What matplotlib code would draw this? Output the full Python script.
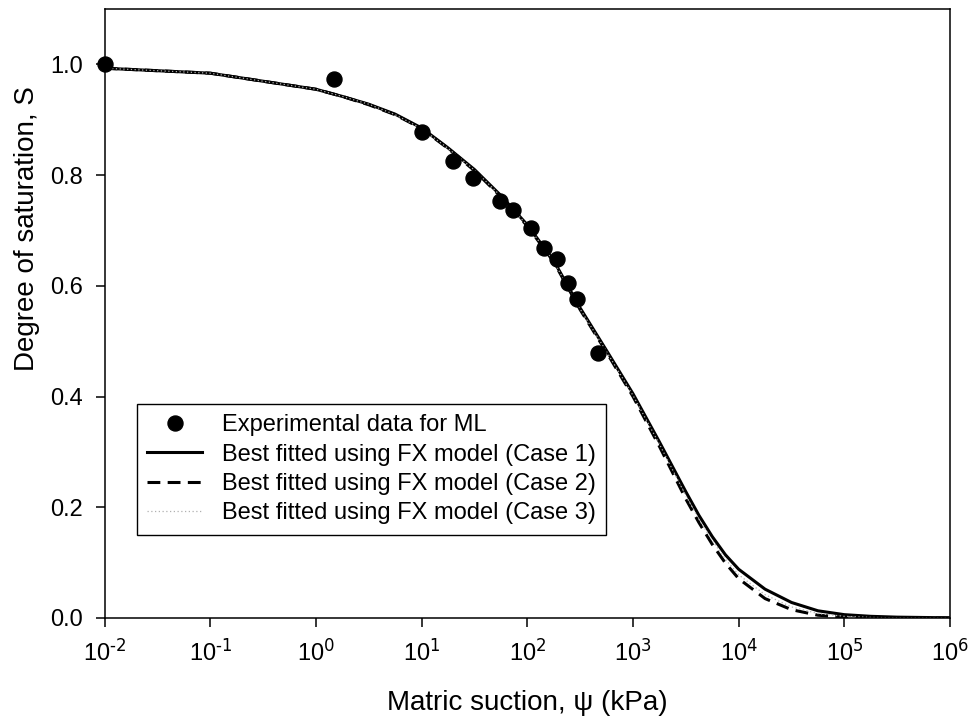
"""
Soil-water characteristic curve: degree of saturation vs matric suction
with FX (Fredlund & Xing) best fits, three cases.
"""
import matplotlib
matplotlib.use("Agg")
import matplotlib.pyplot as plt
from matplotlib.lines import Line2D
from matplotlib.ticker import FixedLocator, NullLocator, FuncFormatter, FormatStrFormatter
import numpy as np

# ── data ──────────────────────────────────────────────────────
exp_suction = [0.01, 1.48, 10, 19.8, 30.5, 55, 73, 108, 144, 190, 243, 295, 466]
exp_sat = [1.0, 0.973, 0.878, 0.825, 0.795, 0.753, 0.737, 0.705, 0.668,
           0.649, 0.605, 0.577, 0.479]

fit_suction = [0.01, 0.1, 1.0, 1.78, 3.16, 5.62, 10, 17.8, 31.6, 56.2, 100,
               178, 316, 562, 1000, 1778, 3162, 4217, 5623, 7499, 10000,
               17783, 31623, 56234, 100000, 177828, 316228, 1000000]
fit_case1 = [0.993, 0.984, 0.955, 0.942, 0.928, 0.910, 0.885, 0.849, 0.810,
             0.763, 0.710, 0.645, 0.560, 0.483, 0.405, 0.318, 0.228, 0.185,
             0.147, 0.114, 0.088, 0.052, 0.028, 0.013, 0.006, 0.003, 0.0015,
             0.0003]
fit_case2 = [0.993, 0.984, 0.955, 0.942, 0.927, 0.909, 0.884, 0.848, 0.808,
             0.761, 0.708, 0.643, 0.557, 0.480, 0.400, 0.310, 0.215, 0.172,
             0.133, 0.099, 0.071, 0.035, 0.015, 0.005, 0.0015, 0.0004, 0.0001,
             0.0]
fit_case3 = [0.993, 0.984, 0.955, 0.942, 0.928, 0.909, 0.884, 0.848, 0.809,
             0.762, 0.709, 0.644, 0.558, 0.481, 0.402, 0.314, 0.221, 0.178,
             0.140, 0.106, 0.078, 0.042, 0.020, 0.008, 0.003, 0.001, 0.0004,
             0.0]

x_ticks = [1e-2, 1e-1, 1e0, 1e1, 1e2, 1e3, 1e4, 1e5, 1e6]
y_ticks = [0.0, 0.2, 0.4, 0.6, 0.8, 1.0]

LABELS = ["Experimental data for ML",
          "Best fitted using FX model (Case 1)",
          "Best fitted using FX model (Case 2)",
          "Best fitted using FX model (Case 3)"]

# ── style ─────────────────────────────────────────────────────
plt.rcParams.update({
    "font.family": ["Liberation Sans", "DejaVu Sans"],
    "mathtext.default": "regular",
    "axes.linewidth": 1.1,
})

fig = plt.figure(figsize=(9.73, 7.18), dpi=100)
ax = fig.add_axes([0.1075, 0.1393, 0.8689, 0.8482])

LW = 2.2
DASH = (4.2, 2.4)
GREY = "#b0b0b0"
ax.plot(fit_suction, fit_case1, color="black", lw=LW)
ax.plot(fit_suction, fit_case2, color="black", lw=LW, dashes=DASH)
ax.plot(fit_suction, fit_case3, color=GREY, lw=0.9, linestyle=(0, (1, 2)))
ax.plot(exp_suction, exp_sat, "o", color="black", ms=10.8, clip_on=False, zorder=5)

ax.set_xscale("log")
ax.set_xlim(1e-2, 1e6)
ax.set_ylim(0, 1.1)
ax.xaxis.set_major_locator(FixedLocator(x_ticks))
ax.xaxis.set_minor_locator(NullLocator())
ax.xaxis.set_major_formatter(
    FuncFormatter(lambda v, _: r"$10^{\text{%d}}$" % int(round(np.log10(v)))))
ax.yaxis.set_major_locator(FixedLocator(y_ticks))
ax.yaxis.set_major_formatter(FormatStrFormatter("%.1f"))

ax.tick_params(axis="both", direction="out", length=6.5, width=1.1,
               labelsize=17, top=False, right=False)
ax.tick_params(axis="y", pad=9)
ax.tick_params(axis="x", pad=9)

ax.set_xlabel("Matric suction, ψ (kPa)", fontsize=20, labelpad=17.5)
ax.set_ylabel("Degree of saturation, S", fontsize=20)
ax.yaxis.set_label_coords(-0.076, 0.64)

handles = [
    Line2D([], [], marker="o", ls="none", color="black", ms=10.8),
    Line2D([], [], color="black", lw=LW),
    Line2D([], [], color="black", lw=LW, dashes=DASH),
    Line2D([], [], color=GREY, lw=0.9, linestyle=(0, (1, 2))),
]
leg = ax.legend(handles, LABELS, loc="lower left",
                bbox_to_anchor=(0.0383, 0.137), borderaxespad=0,
                fontsize=17, fancybox=False, framealpha=1, edgecolor="black",
                handlelength=2.33, handletextpad=0.85, borderpad=0.43,
                labelspacing=0.31, numpoints=1)
leg.get_frame().set_linewidth(1.0)

fig.savefig("out.png", dpi=100)
